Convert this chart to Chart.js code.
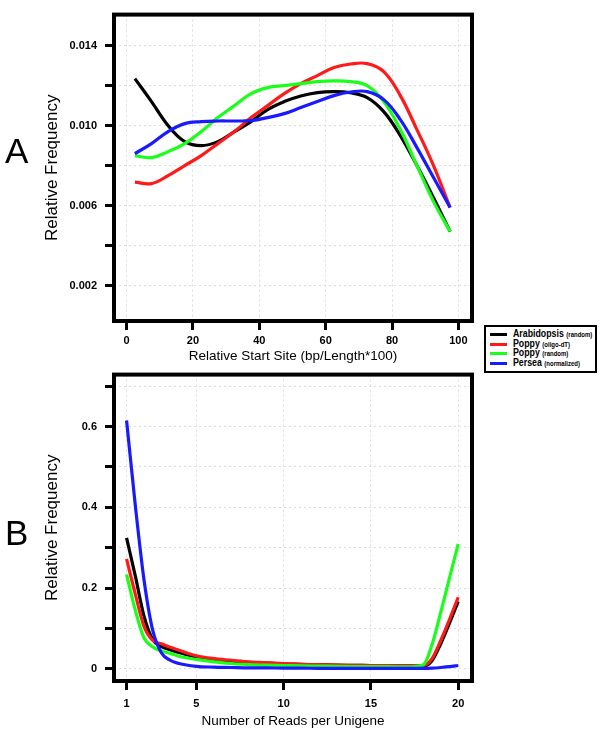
<!DOCTYPE html>
<html>
<head>
<meta charset="utf-8">
<title>Relative frequency</title>
<script src="https://cdn.jsdelivr.net/npm/chart.js@4.4.0/dist/chart.umd.min.js"></script>
<style>
    html, body { margin: 0; padding: 0; background: #fff; }
    #page { position: relative; width: 600px; height: 741px; overflow: hidden; font-family: "Liberation Sans", Arial, sans-serif; }
    canvas { position: absolute; left: 0; }
    #chartA { top: 0; }
    #chartB { top: 360px; }
    .panel { position: absolute; left: 5px; font-size: 35px; line-height: 35px; color: #000; }
    #legend { position: absolute; left: 484px; top: 325px; width: 109px; height: 44px; border: 2px solid #000; background: #fff; }
    .row { position: absolute; left: 0; height: 10px; width: 109px; }
    .swatch { position: absolute; left: 4px; top: 4px; width: 17px; height: 3px; }
    .txt { position: absolute; left: 27px; top: -1px; white-space: nowrap; font-weight: bold; font-size: 11px; line-height: 11px; transform: scaleX(0.8); transform-origin: 0 0; }
    .txt small { font-size: 7.5px; }
</style>
</head>
<body>
<div id="page">
    <canvas id="chartA" width="600" height="370"></canvas>
    <canvas id="chartB" width="600" height="381"></canvas>
    <div class="panel" style="top:133px">A</div>
    <div class="panel" style="top:515px">B</div>
    <div id="legend"></div>
</div>
<script>
// series shared by both panels
const seriesNames = ['Arabidopsis', 'Poppy', 'Poppy', 'Persea'];
const seriesNotes = ['(random)', '(oligo-dT)', '(random)', '(normalized)'];
const seriesColors = ['#000000', '#ff1a1a', '#1aff1a', '#1a1aff'];

// panel A : relative start site
const startSite = [2.5, 7.5, 12.5, 17.5, 22.5, 27.5, 32.5, 37.5, 42.5, 47.5, 52.5, 57.5, 62.5, 67.5, 72.5, 77.5, 82.5, 87.5, 92.5, 97.5];
const arabidopsisStart = [0.01235, 0.0112, 0.0100, 0.0092, 0.0090, 0.0092, 0.0097, 0.0102, 0.0108, 0.0112, 0.01148, 0.01165, 0.0117, 0.01164, 0.0114, 0.0107, 0.0095, 0.0080, 0.0064, 0.0047];
const poppyDtStart = [0.00717, 0.0071, 0.0075, 0.0080, 0.0085, 0.0091, 0.0097, 0.0104, 0.0110, 0.0116, 0.0121, 0.0125, 0.0129, 0.01308, 0.0131, 0.0127, 0.0115, 0.0098, 0.0080, 0.0059];
const poppyRandomStart = [0.0085, 0.0084, 0.0087, 0.0091, 0.0097, 0.0104, 0.0110, 0.0116, 0.0119, 0.0120, 0.0121, 0.0122, 0.01224, 0.0122, 0.0120, 0.0112, 0.0098, 0.0080, 0.0062, 0.0047];
const perseaStart = [0.0086, 0.0091, 0.0097, 0.0101, 0.0102, 0.01023, 0.01023, 0.01025, 0.0104, 0.0106, 0.0109, 0.0112, 0.0115, 0.01168, 0.0117, 0.0113, 0.0103, 0.0089, 0.0074, 0.0059];
const xTicksA = [0, 20, 40, 60, 80, 100];
const yTicksA = [0.002, 0.004, 0.006, 0.008, 0.010, 0.012, 0.014];
const yTextA = ['0.002', '', '0.006', '', '0.010', '', '0.014'];

// panel B : number of reads per unigene
const readsCount = [1, 1.5, 2, 2.5, 3, 3.5, 4, 5, 6, 7, 8, 9, 10, 11, 12, 13, 14, 15, 16, 17, 18, 18.5, 19, 19.5, 20];
const arabidopsisReads = [0.324, 0.23, 0.13, 0.072, 0.055, 0.047, 0.040, 0.029, 0.023, 0.019, 0.016, 0.014, 0.012, 0.011, 0.010, 0.009, 0.0085, 0.008, 0.0075, 0.007, 0.007, 0.02, 0.062, 0.113, 0.167];
const poppyDtReads = [0.272, 0.185, 0.105, 0.070, 0.062, 0.053, 0.046, 0.032, 0.025, 0.021, 0.017, 0.015, 0.013, 0.011, 0.010, 0.009, 0.0085, 0.008, 0.0075, 0.007, 0.008, 0.025, 0.07, 0.122, 0.177];
const poppyRandomReads = [0.234, 0.145, 0.076, 0.054, 0.044, 0.038, 0.031, 0.023, 0.017, 0.013, 0.010, 0.009, 0.008, 0.007, 0.0065, 0.006, 0.0055, 0.005, 0.005, 0.0045, 0.01, 0.06, 0.14, 0.225, 0.309];
const perseaReads = [0.615, 0.405, 0.22, 0.095, 0.039, 0.021, 0.013, 0.006, 0.004, 0.003, 0.002, 0.002, 0.0015, 0.0015, 0.001, 0.001, 0.001, 0.001, 0.001, 0.001, 0.001, 0.0015, 0.003, 0.005, 0.008];
const xTicksB = [1, 5, 10, 15, 20];
const yTicksB = [0, 0.1, 0.2, 0.3, 0.4, 0.5, 0.6, 0.7];
const yTextB = ['0', '', '0.2', '', '0.4', '', '0.6', ''];

const fontFamily = '"Liberation Sans", Arial, sans-serif';

// moldura preta grossa em volta da area do grafico
const framePlugin = {
    id: 'frame',
    afterDraw(chart) {
        const { ctx, chartArea: a } = chart;
        ctx.save();
        ctx.strokeStyle = '#000';
        ctx.lineWidth = 4;
        ctx.strokeRect(a.left, a.top, a.right - a.left, a.bottom - a.top);
        ctx.restore();
    }
};

function toPoints(xs, ys) {
    return xs.map((x, i) => ({ x: x, y: ys[i] }));
}

function makeDatasets(xs, lists, mode) {
    return lists.map((ys, i) => ({
        label: seriesNames[i] + ' ' + seriesNotes[i],
        data: toPoints(xs, ys),
        borderColor: seriesColors[i],
        borderWidth: 3.2,
        pointRadius: 0,
        fill: false,
        tension: 0.4,
        cubicInterpolationMode: mode,
        order: lists.length - i // azul por cima
    }));
}

function makeOptions(cfg) {
    return {
        responsive: false,
        animation: false,
        layout: { padding: { left: 0, top: 9, right: 128, bottom: 0 } },
        plugins: { legend: { display: false }, tooltip: { enabled: false } },
        scales: {
            x: {
                type: 'linear',
                min: cfg.xMin,
                max: cfg.xMax,
                afterBuildTicks: s => { s.ticks = cfg.xTicks.map(v => ({ value: v })); },
                afterFit: s => { s.height = cfg.xHeight; },
                grid: { color: '#dcdcdc', lineWidth: 1, tickColor: '#000', tickWidth: 3, tickLength: 9 },
                border: { display: false, dash: [2, 3] },
                ticks: {
                    color: '#000', padding: cfg.xPad, maxRotation: 0, autoSkip: false,
                    font: { family: fontFamily, size: 11, weight: 'bold' },
                    callback: v => String(v)
                },
                title: {
                    display: true, text: cfg.xTitle, color: '#000',
                    font: { family: fontFamily, size: 13.5 },
                    padding: { top: 0, bottom: cfg.xTitlePad }
                }
            },
            y: {
                type: 'linear',
                min: cfg.yMin,
                max: cfg.yMax,
                afterBuildTicks: s => { s.ticks = cfg.yTicks.map(v => ({ value: v })); },
                afterFit: s => { s.width = 114; },
                grid: { color: '#dcdcdc', lineWidth: 1, tickColor: '#000', tickWidth: 3, tickLength: 9 },
                border: { display: false, dash: [2, 3] },
                ticks: {
                    color: '#000', padding: 8, autoSkip: false,
                    font: { family: fontFamily, size: 11, weight: 'bold' },
                    callback: (v, i) => cfg.yText[i]
                },
                title: {
                    display: true, text: 'Relative Frequency', color: '#000',
                    font: { family: fontFamily, size: 17 },
                    padding: { top: 41.8, bottom: 0 }
                }
            }
        }
    };
}

document.addEventListener('DOMContentLoaded', function () {
    // painel A
    new Chart(document.getElementById('chartA').getContext('2d'), {
        type: 'line',
        data: { datasets: makeDatasets(startSite, [arabidopsisStart, poppyDtStart, poppyRandomStart, perseaStart], 'default') },
        options: makeOptions({
            xMin: -3.8, xMax: 104.1, xTicks: xTicksA, xHeight: 49, xPad: 4,
            xTitle: 'Relative Start Site (bp/Length*100)', xTitlePad: 5.6,
            yMin: 0.00023, yMax: 0.01555, yTicks: yTicksA, yText: yTextA
        }),
        plugins: [framePlugin]
    });

    // painel B
    new Chart(document.getElementById('chartB').getContext('2d'), {
        type: 'line',
        data: { datasets: makeDatasets(readsCount, [arabidopsisReads, poppyDtReads, poppyRandomReads, perseaReads], 'monotone') },
        options: makeOptions({
            xMin: 0.28, xMax: 20.79, xTicks: xTicksB, xHeight: 60, xPad: 7,
            xTitle: 'Number of Reads per Unigene', xTitlePad: 11.6,
            yMin: -0.0304, yMax: 0.7287, yTicks: yTicksB, yText: yTextB
        }),
        plugins: [framePlugin]
    });

    // legenda em html
    const legend = document.getElementById('legend');
    seriesNames.forEach((name, i) => {
        const row = document.createElement('div');
        row.className = 'row';
        row.style.top = (2 + i * 9.7) + 'px';
        row.innerHTML = '<div class="swatch" style="background:' + seriesColors[i] + '"></div>' +
            '<div class="txt">' + name + ' <small>' + seriesNotes[i] + '</small></div>';
        legend.appendChild(row);
    });
});
</script>
</body>
</html>
